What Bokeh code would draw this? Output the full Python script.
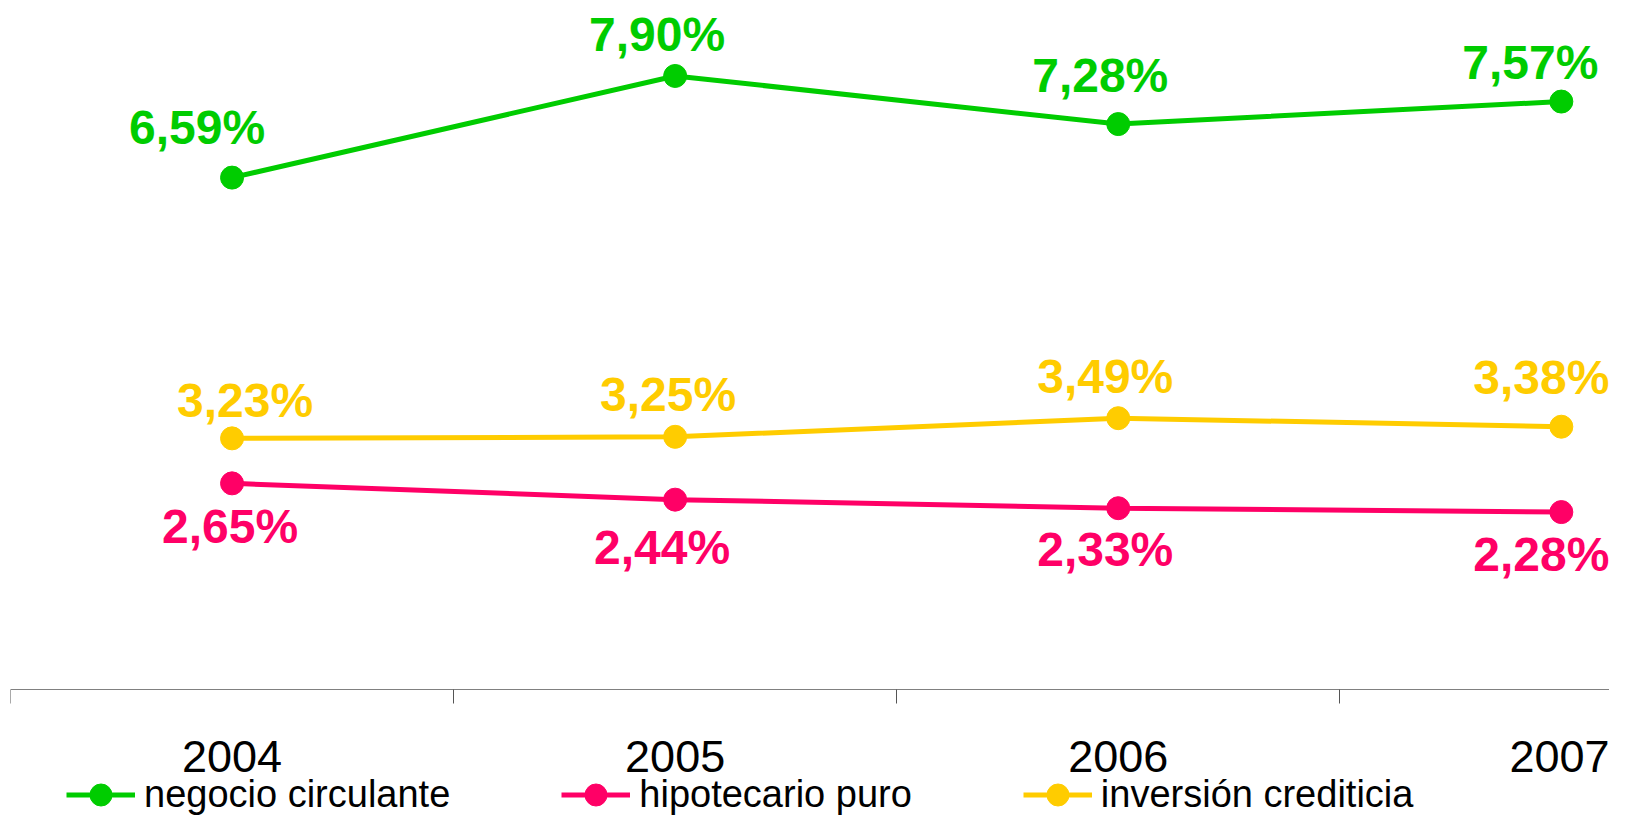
from bokeh.plotting import figure
from bokeh.models import Range1d, FixedTicker, Legend, LegendItem
from bokeh.core.properties import value
from bokeh.embed import file_html
from bokeh.resources import INLINE

years = ["2004", "2005", "2006", "2007"]
negocio_circulante = [6.59, 7.90, 7.28, 7.57]
hipotecario_puro = [2.65, 2.44, 2.33, 2.28]
inversion_crediticia = [3.23, 3.25, 3.49, 3.38]

# label nudges (screen px) relative to each point, as placed in the original
green_dx = [-35, -18, -18, -31]
green_dy = [-50, -41, -49, -39]
pink_dx = [-2, -13, -13, -20]
pink_dy = [43, 48, 41, 42]
yellow_dx = [13, -7, -13, -20]
yellow_dy = [-38, -42, -42, -49]

series = [
    ("negocio circulante", negocio_circulante, "#00CC00", green_dx, green_dy),
    ("hipotecario puro", hipotecario_puro, "#FF0066", pink_dx, pink_dy),
    ("inversión crediticia", inversion_crediticia, "#FFCC00", yellow_dx, yellow_dy),
]

FONT = "Liberation Sans"
xs = list(range(len(years)))

p = figure(width=1609, height=817, output_backend="svg", toolbar_location=None,
           x_range=Range1d(-0.5, 3.1087), y_range=Range1d(-1.6559, 8.8724),
           y_axis_location=None, min_border_left=10, min_border_right=0,
           min_border_top=0, min_border_bottom=0)
p.outline_line_color = None
p.xgrid.visible = False
p.ygrid.visible = False

ax = p.xaxis[0]
ax.fixed_location = 0
ax.ticker = FixedTicker(ticks=xs, minor_ticks=[i - 0.5 for i in range(len(years) + 1)])
ax.major_label_overrides = {i: y for i, y in enumerate(years)}
ax.major_tick_line_color = None
ax.major_tick_out = 0
ax.major_tick_in = 0
ax.minor_tick_out = 14
ax.minor_tick_in = 0
ax.minor_tick_line_color = "#555555"
ax.axis_line_color = "#808080"
ax.major_label_text_font = FONT
ax.major_label_text_font_size = "45px"
ax.major_label_text_color = "black"
ax.major_label_standoff = 38

items = []
for name, vals, color, dx, dy in series:
    lr = p.line(xs, vals, line_color=color, line_width=5)
    sr = p.scatter(xs, vals, size=23, fill_color=color, line_color=color)
    labels = [f"{v:.2f}%".replace(".", ",") for v in vals]
    src = dict(x=xs, y=vals, t=labels, dx=dx, dy=dy)
    p.text(x="x", y="y", text="t", x_offset="dx", y_offset="dy", source=src,
           text_align="center", text_baseline="middle",
           text_font=value(FONT), text_font_style="bold",
           text_font_size="48px", text_color=color)
    items.append(LegendItem(label=name, renderers=[lr, sr]))

legend = Legend(items=items, orientation="horizontal", location=(56, -5),
                glyph_width=69, glyph_height=55, label_standoff=9, spacing=111,
                padding=0, margin=0, border_line_color=None,
                background_fill_alpha=0, label_text_font=FONT,
                label_text_font_size="38px", label_text_color="black")
p.add_layout(legend)

open("out.html", "w").write(file_html(p, INLINE))
